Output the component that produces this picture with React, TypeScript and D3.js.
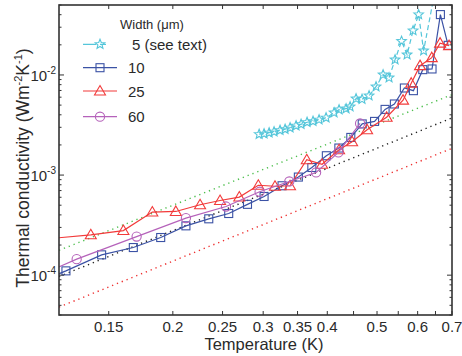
import React from 'react';
import * as d3 from 'd3';

// ---- data -------------------------------------------------------------
// 5 µm width (see text)
const tempW5 = [0.2946, 0.3012, 0.3081, 0.315, 0.3236, 0.331, 0.3385, 0.3477, 0.3556, 0.3653, 0.3752, 0.3855, 0.3978, 0.4124, 0.4217, 0.4352, 0.4431, 0.4551, 0.4675, 0.4825, 0.4978, 0.5138, 0.5278, 0.5422, 0.5582, 0.5722, 0.5878, 0.6027, 0.6163, 0.6549];
const condW5 = [2.559e-3, 2.588e-3, 2.649e-3, 2.71e-3, 2.805e-3, 2.871e-3, 2.972e-3, 3.112e-3, 3.221e-3, 3.373e-3, 3.451e-3, 3.573e-3, 3.741e-3, 4.198e-3, 4.498e-3, 4.603e-3, 4.82e-3, 5.794e-3, 5.728e-3, 6.209e-3, 7.638e-3, 1.007e-2, 9.397e-3, 1.422e-2, 2.178e-2, 1.596e-2, 2.773e-2, 4.009e-2, 1.75e-2, 8.97e-2];

// 10 µm width
const tempW10 = [0.11, 0.1238, 0.1453, 0.1675, 0.1894, 0.2121, 0.235, 0.257, 0.2796, 0.3012, 0.3265, 0.3513, 0.3732, 0.3983, 0.4213, 0.4445, 0.4679, 0.4945, 0.5184, 0.5405, 0.5653, 0.5887, 0.614, 0.64, 0.6645, 0.688];
const condW10 = [8.6e-5, 1.104e-4, 1.596e-4, 1.888e-4, 2.377e-4, 3.11e-4, 3.656e-4, 4.13e-4, 5.1e-4, 6.11e-4, 7.82e-4, 9.55e-4, 1.19e-3, 1.56e-3, 1.862e-3, 2.377e-3, 3.243e-3, 3.436e-3, 4.53e-3, 5.13e-3, 7.41e-3, 6.97e-3, 1.13e-2, 1.148e-2, 4.01e-2, 1.977e-2];

// 25 µm width
const tempW25 = [0.11, 0.1384, 0.1602, 0.1824, 0.2027, 0.226, 0.2472, 0.2695, 0.2935, 0.3163, 0.3384, 0.3648, 0.3907, 0.4217, 0.4471, 0.4782, 0.522, 0.562, 0.5829, 0.6065, 0.6393, 0.6635, 0.6908];
const condW25 = [2.27e-4, 2.53e-4, 2.79e-4, 4.27e-4, 4.33e-4, 5.05e-4, 5.57e-4, 6.03e-4, 7.91e-4, 7.73e-4, 7.82e-4, 1.422e-3, 1.282e-3, 1.79e-3, 2.153e-3, 2.84e-3, 3.78e-3, 5.6e-3, 8.28e-3, 1.239e-2, 1.489e-2, 2.08e-2, 1.963e-2];

// 60 µm width
const tempW60 = [0.11, 0.1299, 0.17, 0.2121, 0.2539, 0.2952, 0.3373, 0.3804, 0.4204, 0.4634];
const condW60 = [1.0e-4, 1.445e-4, 2.43e-4, 3.715e-4, 4.85e-4, 6.81e-4, 8.63e-4, 1.062e-3, 1.683e-3, 3.28e-3];

// T^2 guide lines (end points)
const guideTemps = [0.12, 0.7];
const guideGreen = [1.77e-4, 6.35e-3];
const guideBlack = [9.7e-5, 3.72e-3];
const guideRed = [4.8e-5, 1.85e-3];

// axes
const xTicks = [0.15, 0.2, 0.25, 0.3, 0.35, 0.4, 0.45, 0.5, 0.55, 0.6, 0.65, 0.7];
const xTickLabels = ['0.15', '0.2', '0.25', '0.3', '0.35', '0.4', '', '0.5', '', '0.6', '', '0.7'];
const yMajor = [1e-4, 1e-3, 1e-2];
const yMajorExp = ['-4', '-3', '-2'];

const legendLabels = ['5 (see text)', '10', '25', '60'];

// ---- layout -----------------------------------------------------------
const W = 462;
const H = 356;
const PL = 59, PR = 452, PT = 5, PB = 315;
const FONT = 'Liberation Sans, Arial, Helvetica, sans-serif';

const C_CYAN = '#55c6da';
const C_BLUE = '#3b52a5';
const C_RED = '#f23a3a';
const C_PURPLE = '#b562ba';

const x = d3.scaleLog().domain([0.12, 0.7]).range([PL, PR]);
const y = d3.scaleLog().domain([4e-5, 5e-2]).range([PB, PT]);

function starPath(cx: number, cy: number, ro: number, ri: number) {
  const pts: [number, number][] = [];
  for (let i = 0; i < 10; i++) {
    const r = i % 2 === 0 ? ro : ri;
    const a = -Math.PI / 2 + (i * Math.PI) / 5;
    pts.push([cx + r * Math.cos(a), cy + r * Math.sin(a)]);
  }
  return 'M' + pts.map((p) => p.join(',')).join('L') + 'Z';
}

type Kind = 'star' | 'square' | 'triangle' | 'circle';

function Marker({ kind, cx, cy, color }: { kind: Kind; cx: number; cy: number; color: string }) {
  const sw = 1.1;
  if (kind === 'star') return <path d={starPath(cx, cy, 5, 2.2)} fill="none" stroke={color} strokeWidth={sw} />;
  if (kind === 'square') return <rect x={cx - 4} y={cy - 4} width={8} height={8} fill="none" stroke={color} strokeWidth={sw} />;
  if (kind === 'triangle')
    return <path d={`M${cx},${cy - 5.5}L${cx + 5.5},${cy + 4}L${cx - 5.5},${cy + 4}Z`} fill="none" stroke={color} strokeWidth={sw} />;
  return <circle cx={cx} cy={cy} r={4.6} fill="none" stroke={color} strokeWidth={sw} />;
}

const series = [
  { t: tempW5, k: condW5, color: C_CYAN, kind: 'star' as Kind, dash: '5,3' },
  { t: tempW10, k: condW10, color: C_BLUE, kind: 'square' as Kind, dash: undefined },
  { t: tempW25, k: condW25, color: C_RED, kind: 'triangle' as Kind, dash: undefined },
  { t: tempW60, k: condW60, color: C_PURPLE, kind: 'circle' as Kind, dash: undefined },
];

const guides = [
  { k: guideGreen, color: '#4fbf4f' },
  { k: guideBlack, color: '#222' },
  { k: guideRed, color: '#ee3030' },
];

export default function App() {
  const line = d3
    .line<[number, number]>()
    .x((d) => x(d[0]))
    .y((d) => y(d[1]));

  const yMinor: number[] = [];
  for (let e = -5; e <= -2; e++) {
    for (let m = 2; m <= 9; m++) {
      const v = m * Math.pow(10, e);
      if (v >= 4e-5 && v <= 5e-2) yMinor.push(v);
    }
  }

  const axisColor = '#333';
  const textColor = '#2a2a2a';

  return (
    <svg width={W} height={H} style={{ position: 'absolute', left: 0, top: 0, background: '#fff' }} fontFamily={FONT}>
      <defs>
        <clipPath id="plot-area">
          <rect x={PL} y={PT} width={PR - PL} height={PB - PT} />
        </clipPath>
      </defs>

      {/* guide lines */}
      <g clipPath="url(#plot-area)">
        {guides.map((g, i) => (
          <path
            key={i}
            d={line(guideTemps.map((t, j) => [t, g.k[j]] as [number, number])) || ''}
            fill="none"
            stroke={g.color}
            strokeWidth={1.4}
            strokeDasharray="1.3,3.9"
          />
        ))}
      </g>

      {/* data */}
      <g clipPath="url(#plot-area)">
        {series.map((s, i) => {
          const pts = s.t.map((t, j) => [t, s.k[j]] as [number, number]);
          return (
            <g key={i}>
              <path d={line(pts) || ''} fill="none" stroke={s.color} strokeWidth={1.2} strokeDasharray={s.dash} />
              {pts.map((p, j) => (
                <Marker key={j} kind={s.kind} cx={x(p[0])} cy={y(p[1])} color={s.color} />
              ))}
            </g>
          );
        })}
      </g>

      {/* frame */}
      <rect x={PL} y={PT} width={PR - PL} height={PB - PT} fill="none" stroke={axisColor} strokeWidth={1.6} />

      {/* x ticks */}
      {xTicks.map((t, i) => (
        <g key={i}>
          <line x1={x(t)} x2={x(t)} y1={PB} y2={PB - 4} stroke={axisColor} strokeWidth={1} />
          <line x1={x(t)} x2={x(t)} y1={PT} y2={PT + 4} stroke={axisColor} strokeWidth={1} />
          {xTickLabels[i] && (
            <text x={x(t)} y={331.5} textAnchor="middle" fontSize={15} fill={textColor}>
              {xTickLabels[i]}
            </text>
          )}
        </g>
      ))}

      {/* y ticks */}
      {yMinor.map((v, i) => (
        <g key={i}>
          <line x1={PL} x2={PL + 2.5} y1={y(v)} y2={y(v)} stroke={axisColor} strokeWidth={1} />
          <line x1={PR} x2={PR - 2.5} y1={y(v)} y2={y(v)} stroke={axisColor} strokeWidth={1} />
        </g>
      ))}
      {yMajor.map((v, i) => (
        <g key={i}>
          <line x1={PL} x2={PL + 5} y1={y(v)} y2={y(v)} stroke={axisColor} strokeWidth={1} />
          <line x1={PR} x2={PR - 5} y1={y(v)} y2={y(v)} stroke={axisColor} strokeWidth={1} />
          <text x={56} y={y(v) + 6} textAnchor="end" fontSize={15} fill={textColor}>
            10
            <tspan fontSize={10} dy={-7}>
              {yMajorExp[i]}
            </tspan>
          </text>
        </g>
      ))}

      {/* axis titles */}
      <text x={264} y={350} textAnchor="middle" fontSize={16.5} fill={textColor}>
        Temperature (K)
      </text>
      <text transform="translate(29,168) rotate(-90)" textAnchor="middle" fontSize={17.5} fill={textColor}>
        Thermal conductivity (Wm
        <tspan fontSize={11} dy={-7}>
          -2
        </tspan>
        <tspan dy={7}>K</tspan>
        <tspan fontSize={11} dy={-7}>
          -1
        </tspan>
        <tspan dy={7}>)</tspan>
      </text>

      {/* legend */}
      <text x={120} y={29} fontSize={13} fill={textColor}>
        Width (μm)
      </text>
      {series.map((s, i) => {
        const ly = [44.3, 67.7, 91, 116.7][i];
        return (
          <g key={i}>
            <line x1={83} x2={117} y1={ly} y2={ly} stroke={s.color} strokeWidth={1.2} strokeDasharray={s.dash ? '13,4,6' : undefined} />
            <Marker kind={s.kind} cx={100} cy={ly} color={s.color} />
            <text x={i === 0 ? 132 : 128} y={ly + 5.5} fontSize={15} fill={textColor}>
              {legendLabels[i]}
            </text>
          </g>
        );
      })}
    </svg>
  );
}
